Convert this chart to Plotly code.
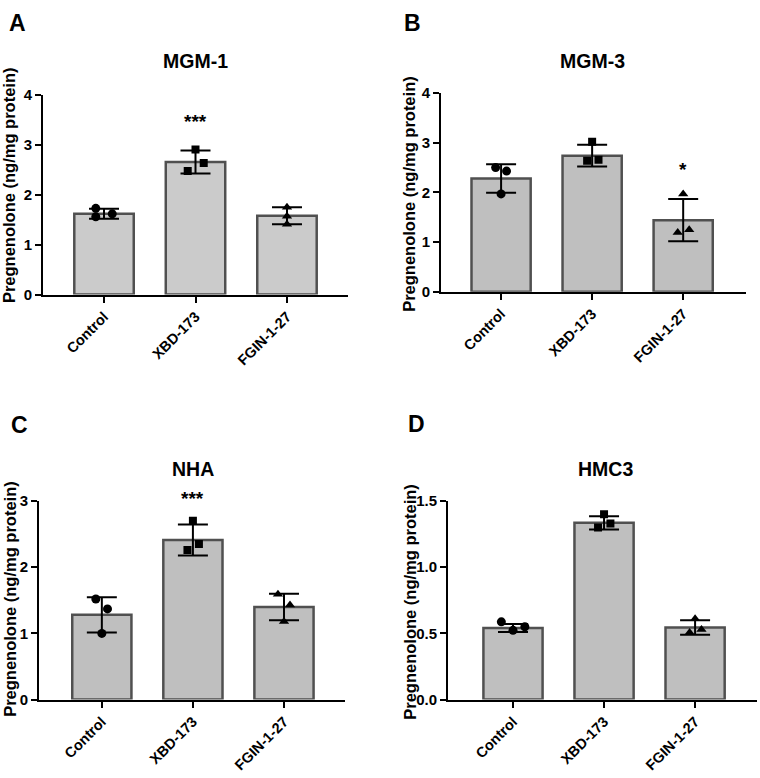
import plotly.graph_objects as go

# groups shared by every panel
categories = ["Control", "XBD-173", "FGIN-1-27"]
symbols = ["circle", "square", "triangle-up"]

# A: MGM-1
mgm1_mean = [1.62, 2.66, 1.58]
mgm1_sd = [0.10, 0.23, 0.17]
mgm1_pts = [[1.73, 1.56, 1.62], [2.91, 2.64, 2.48], [1.75, 1.57, 1.41]]
mgm1_jit = [[-0.09, -0.09, 0.09], [0.0, 0.09, -0.085], [0.0, 0.0, 0.0]]

# B: MGM-3
mgm3_mean = [2.28, 2.74, 1.44]
mgm3_sd = [0.285, 0.22, 0.425]
mgm3_pts = [[2.50, 2.43, 1.97], [3.02, 2.64, 2.66], [1.97, 1.19, 1.25]]
mgm3_jit = [[-0.06, 0.06, 0.0], [0.0, -0.055, 0.07], [0.0, -0.06, 0.066]]

# C: NHA
nha_mean = [1.28, 2.41, 1.40]
nha_sd = [0.265, 0.235, 0.20]
nha_pts = [[1.52, 1.37, 1.00], [2.70, 2.35, 2.26], [1.59, 1.43, 1.18]]
nha_jit = [[-0.066, 0.062, 0.0], [0.0, 0.066, -0.06], [-0.066, 0.066, 0.0]]

# D: HMC3
hmc3_mean = [0.54, 1.335, 0.545]
hmc3_sd = [0.03, 0.05, 0.055]
hmc3_pts = [[0.587, 0.523, 0.55], [1.40, 1.33, 1.30], [0.61, 0.53, 0.506]]
hmc3_jit = [[-0.128, 0.0, 0.13], [0.0, 0.07, -0.066], [0.0, 0.07, -0.06]]

# significance marks: (group index, y, text)
stars = {"A": (1, 3.30, "***"), "B": (2, 2.31, "*"), "C": (1, 2.91, "***"), "D": (1, 1.52, "***")}

W, H = 760, 778
FONT = "Arial, Liberation Sans, sans-serif"

# pixel boxes of each plot area: x0, x1, ytop, ybottom
panels = [
    dict(key="A", title="MGM-1", mean=mgm1_mean, sd=mgm1_sd, pts=mgm1_pts, jit=mgm1_jit,
         box=(43, 348, 88, 292), xr=[-0.667, 2.667], yr=[0, 4], dtick=1, fmt="",
         fill="#cbcbcb", ttl=(195, 53), lab=(17, 14), ytl=(9, 180)),
    dict(key="B", title="MGM-3", mean=mgm3_mean, sd=mgm3_sd, pts=mgm3_pts, jit=mgm3_jit,
         box=(441, 746, 86, 289), xr=[-0.66, 2.69], yr=[0, 4], dtick=1, fmt="",
         fill="#bfbfbf", ttl=(592, 53), lab=(412, 14), ytl=(409, 189)),
    dict(key="C", title="NHA", mean=nha_mean, sd=nha_sd, pts=nha_pts, jit=nha_jit,
         box=(39, 345, 503, 706), xr=[-0.69, 2.67], yr=[0, 3], dtick=1, fmt="",
         fill="#bfbfbf", ttl=(193, 470), lab=(19, 425), ytl=(10, 603)),
    dict(key="D", title="HMC3", mean=hmc3_mean, sd=hmc3_sd, pts=hmc3_pts, jit=hmc3_jit,
         box=(448, 757, 503, 706), xr=[-0.714, 2.68], yr=[0, 1.5], dtick=0.5, fmt=".1f",
         fill="#bfbfbf", ttl=(605, 470), lab=(416, 424), ytl=(410, 606)),
]

fig = go.Figure()
annotations = []
layout = {}


def note(text, x, y, size, xref="paper", yref="paper", angle=0, yshift=0):
    if xref == "paper":
        x, y = x / W, 1 - y / H
    return dict(text="<b>%s</b>" % text, x=x, y=y, xref=xref, yref=yref,
                xanchor="center", yanchor="middle", showarrow=False, textangle=angle,
                yshift=yshift, font=dict(family=FONT, size=size, color="black"))


for i, p in enumerate(panels):
    n = "" if i == 0 else str(i + 1)
    xa, ya = "x" + n, "y" + n
    x0, x1, yt, yb = p["box"]

    # bars with SD error bars
    fig.add_trace(go.Bar(
        x=list(range(len(categories))), y=p["mean"], width=0.65,
        marker=dict(color=p["fill"], line=dict(color="#505050", width=2.5)),
        error_y=dict(type="data", array=p["sd"], visible=True, color="black",
                     thickness=2, width=15),
        xaxis=xa, yaxis=ya, showlegend=False, hoverinfo="skip",
    ))

    # individual replicates
    for g, cat in enumerate(categories):
        fig.add_trace(go.Scatter(
            x=[g + j for j in p["jit"][g]], y=p["pts"][g], mode="markers",
            marker=dict(symbol=symbols[g], color="black",
                        size=8 if symbols[g] == "square" else 9),
            xaxis=xa, yaxis=ya, showlegend=False, name=cat,
        ))

    axfont = dict(family=FONT, size=15, color="black", weight=700)
    layout["xaxis" + n] = dict(
        domain=[x0 / W, x1 / W], anchor=ya, range=p["xr"],
        tickmode="array", tickvals=list(range(len(categories))), ticktext=categories,
        tickangle=-45, ticks="outside", ticklen=6, tickwidth=2, tickcolor="black",
        showline=True, linecolor="black", linewidth=2, showgrid=False, zeroline=False,
        tickfont=dict(family=FONT, size=14.5, color="black", weight=700),
    )
    layout["yaxis" + n] = dict(
        domain=[1 - yb / H, 1 - yt / H], anchor=xa, range=p["yr"],
        dtick=p["dtick"], tickformat=p["fmt"],
        ticks="outside", ticklen=6, tickwidth=2, tickcolor="black",
        showline=True, linecolor="black", linewidth=2, showgrid=False, zeroline=False,
        tickfont=axfont,
    )

    # panel title, letter, y-axis title, significance
    annotations.append(note(p["title"], *p["ttl"], size=19.5))
    annotations.append(note(p["key"], *p["lab"], size=23))
    annotations.append(note("Pregnenolone (ng/mg protein)", *p["ytl"], size=16.5, angle=-90))
    sg, sy, st = stars[p["key"]]
    annotations.append(note(st, sg, sy, 19, xref=xa, yref=ya, yshift=8))

fig.update_layout(
    width=W, height=H, margin=dict(l=0, r=0, t=0, b=0),
    plot_bgcolor="white", paper_bgcolor="white",
    annotations=annotations, **layout,
)

# the page's default body margin would push the figure off the window
fig.write_html("out.html", config={"displayModeBar": False},
               post_script="document.body.style.margin='0';document.body.style.padding='0';")
